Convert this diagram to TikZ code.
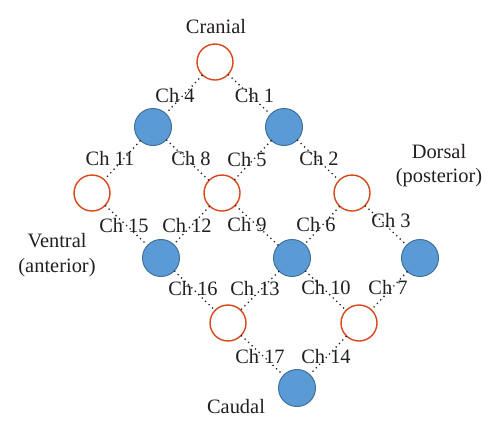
\documentclass[tikz,border=0pt]{standalone}
\usepackage{fontspec}
\setmainfont{Liberation Serif}
\definecolor{nodered}{HTML}{D9461A}
\definecolor{nodeblue}{HTML}{5B9BD5}
\definecolor{nodeblueline}{HTML}{41719C}
\definecolor{txt}{HTML}{231F20}
\tikzset{
  redc/.style={circle, draw=nodered, line width=1.4bp, fill=white, minimum size=36bp, inner sep=0pt},
  bluec/.style={circle, draw=nodeblueline, line width=1bp, fill=nodeblue, minimum size=37bp, inner sep=0pt},
  conn/.style={line width=1.8bp, line cap=round, dash pattern=on 0bp off 4.8bp, txt},
  lab/.style={inner sep=0pt, font=\fontsize{20.5}{25}\selectfont, text=txt},
  side/.style={inner sep=0pt, font=\fontsize{20.5}{25}\selectfont, text=txt, anchor=base},
}
\begin{document}
\begin{tikzpicture}[x=1bp, y=-1bp]
\useasboundingbox (0,0) rectangle (500,432);
% nodes
\node[redc]  (A)  at (215,62) {};
\node[bluec] (B1) at (153,127) {};
\node[bluec] (B2) at (284,127) {};
\node[redc]  (C1) at (92,193) {};
\node[redc]  (C2) at (222,193) {};
\node[redc]  (C3) at (352,193) {};
\node[bluec] (D1) at (161,258) {};
\node[bluec] (D2) at (292,258) {};
\node[bluec] (D3) at (420,258) {};
\node[redc]  (E1) at (228,323) {};
\node[redc]  (E2) at (359,323) {};
\node[bluec] (F)  at (297,388) {};
% connectors
\draw[conn] (A) -- (B1);
\draw[conn] (A) -- (B2);
\draw[conn] (B1) -- (C1);
\draw[conn] (B1) -- (C2);
\draw[conn] (B2) -- (C2);
\draw[conn] (B2) -- (C3);
\draw[conn] (C1) -- (D1);
\draw[conn] (C2) -- (D1);
\draw[conn] (C2) -- (D2);
\draw[conn] (C3) -- (D2);
\draw[conn] (C3) -- (D3);
\draw[conn] (D1) -- (E1);
\draw[conn] (D2) -- (E1);
\draw[conn] (D2) -- (E2);
\draw[conn] (D3) -- (E2);
\draw[conn] (E1) -- (F);
\draw[conn] (E2) -- (F);
% channel labels
\node[lab] (l4)  at (175,96) {Ch 4};
\node[lab] (l1)  at (254.5,96) {Ch 1};
\node[lab] (l11) at (110,159) {Ch 11};
\node[lab] (l8)  at (191,159) {Ch 8};
\node[lab] (l5)  at (247,160) {Ch 5};
\node[lab] (l2)  at (319,159) {Ch 2};
\node[lab] (l15) at (124,226) {Ch 15};
\node[lab] (l12) at (187,226) {Ch 12};
\node[lab] (l9)  at (247,225) {Ch 9};
\node[lab] (l6)  at (316,225) {Ch 6};
\node[lab] (l3)  at (391,221) {Ch 3};
\node[lab] (l16) at (193,289) {Ch 16};
\node[lab] (l13) at (255,289) {Ch 13};
\node[lab] (l10) at (326,288) {Ch 10};
\node[lab] (l7)  at (388,288) {Ch 7};
\node[lab] (l17) at (260,357) {Ch 17};
\node[lab] (l14) at (326,357) {Ch 14};
% orientation labels
\node[side] (cran) at (216,33) {Cranial};
\node[side] (caud) at (236,413) {Caudal};
\node[side] (dors) at (439,158) {Dorsal};
\node[side] (post) at (439,182) {(posterior)};
\node[side] (vent) at (57,247) {Ventral};
\node[side] (ante) at (57,272) {(anterior)};
\end{tikzpicture}
\end{document}
